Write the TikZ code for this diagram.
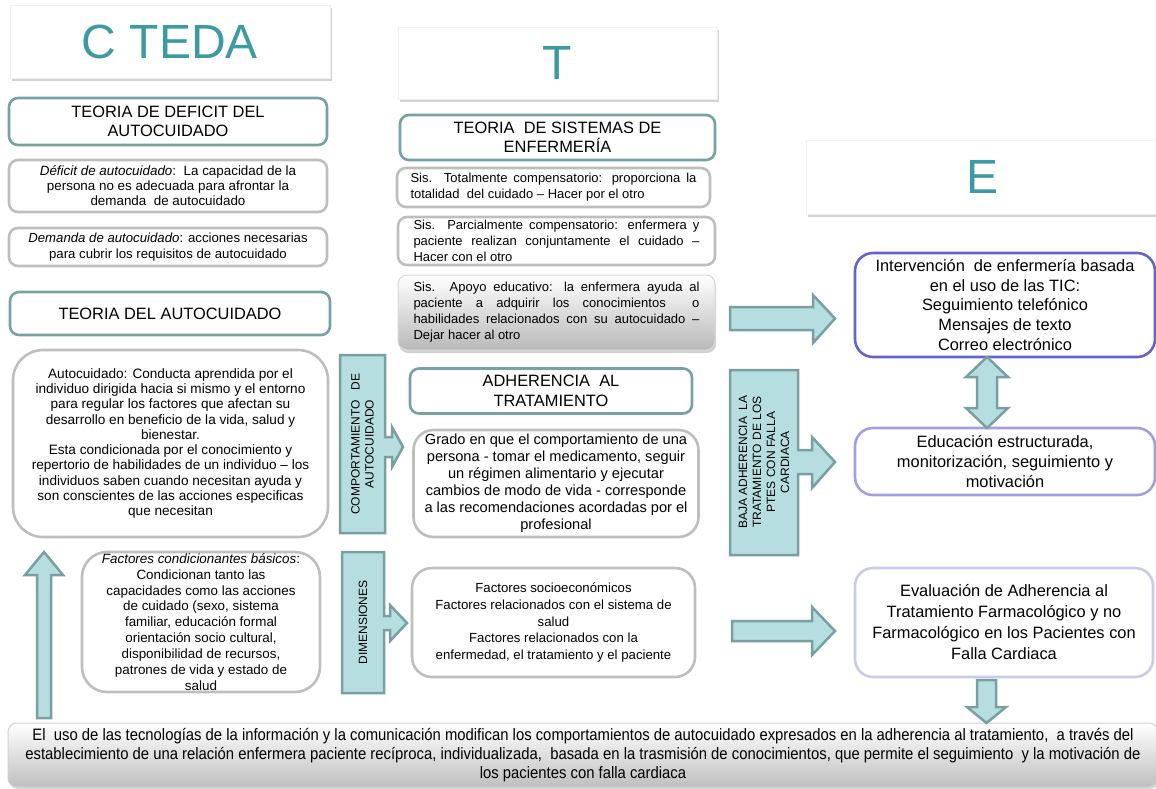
\documentclass[tikz,border=0pt]{standalone}
\usepackage{fontspec}
\setmainfont{Liberation Sans}
\newfontfamily\narrowfont[FakeStretch=0.9]{Liberation Sans}
\usetikzlibrary{shadows}
\definecolor{tealtxt}{HTML}{3C9AA0}
\definecolor{tealbd}{HTML}{76A2A5}
\definecolor{arrfill}{HTML}{B6DEE0}
\definecolor{arrbd}{HTML}{7A9FA1}
\definecolor{graybd}{HTML}{BEBEBE}
\definecolor{vioA}{HTML}{6464CC}
\definecolor{vioB}{HTML}{A0A0E0}
\definecolor{vioC}{HTML}{CACAEE}
\tikzset{
  fs/.style 2 args={font=\fontsize{#1}{#2}\selectfont},
  hdrbox/.style={draw=gray!12, line width=0.4pt, fill=white, inner sep=0,
     drop shadow={opacity=0.35, shadow xshift=1.5pt, shadow yshift=-2.5pt},
     text=tealtxt, fs={48}{50}},
  teorbox/.style={draw=tealbd, line width=2.6pt, fill=white, rounded corners=9,
     inner sep=0, align=center, fs={16.4}{19.5}},
  graybox/.style={draw=graybd, line width=2.6pt, fill=white, rounded corners=9,
     inner sep=0, align=center, fs={13.4}{15.5}},
  jbox/.style={graybox, align=justify, text width=286, fs={13}{16}},
  viobox/.style={line width=2.6pt, fill=white, rounded corners=18, inner sep=0,
     align=center, fs={16.4}{19.8}},
  blockarr/.style={fill=arrfill, draw=arrbd, line width=2.5pt, line join=miter},
  vtext/.style={rotate=90, align=center, fs={12}{14}, inner sep=0},
}
\begin{document}
\begin{tikzpicture}[x=1pt,y=-1pt]
\useasboundingbox (0,0) rectangle (1156,788);
\fill[white] (0,0) rectangle (1156,788);

% headers
\node[hdrbox, minimum width=320, minimum height=73] (hC) at (170,41.5) {\raisebox{-2pt}{C TEDA}};
\node[hdrbox, minimum width=319, minimum height=72] (hT) at (557.5,63) {T};
\node[hdrbox, minimum width=352, minimum height=74] (hE) at (982,177) {\raisebox{-2pt}{E}};

% left column
\node[teorbox, minimum width=318, minimum height=47] (tdef) at (168,121.5)
  {TEORIA DE DEFICIT DEL\\AUTOCUIDADO};
\node[graybox, minimum width=318, minimum height=52, fs={13.4}{15}] (defi) at (168,186)
  {\textit{Déficit de autocuidado}:\ \ La capacidad de la\\persona no es adecuada para afrontar la\\demanda\ \ de autocuidado};
\node[graybox, minimum width=318, minimum height=38, fs={13.2}{16}] (dema) at (168,247)
  {\textit{Demanda de autocuidado}: acciones necesarias\\para cubrir los requisitos de autocuidado};
\node[teorbox, minimum width=320, minimum height=43] (tauto) at (170,313.5)
  {TEORIA DEL AUTOCUIDADO};
\node[graybox, rounded corners=30, minimum width=315, minimum height=187, fs={13.6}{15.3}] (auto) at (170.5,443.5)
  {Autocuidado: Conducta aprendida por el\\
   individuo dirigida hacia si mismo y el entorno\\
   para regular los factores que afectan su\\
   desarrollo en beneficio de la vida, salud y\\
   bienestar.\\
   Esta condicionada por el conocimiento y\\
   repertorio de habilidades de un individuo – los\\
   individuos saben cuando necesitan ayuda y\\
   son conscientes de las acciones especificas\\
   que necesitan};
\node[graybox, rounded corners=25, minimum width=238, minimum height=140, fs={13.4}{15.9}] (fcb) at (201,622)
  {\textit{Factores condicionantes básicos}:\\
   Condicionan tanto las\\
   capacidades como las acciones\\
   de cuidado (sexo, sistema\\
   familiar, educación formal\\
   orientación socio cultural,\\
   disponibilidad de recursos,\\
   patrones de vida\ y estado de\\
   salud};

% middle column
\node[teorbox, minimum width=315, minimum height=45] (tsis) at (557.5,137.5)
  {TEORIA\ \ DE SISTEMAS DE\\ENFERMERÍA};
\node[jbox, minimum width=313, minimum height=39] (sis1) at (553.5,187.5)
  {Sis. Totalmente compensatorio: proporciona la\linebreak totalidad\ \ del cuidado – Hacer por el otro};
\node[jbox, minimum width=317, minimum height=48] (sis2) at (556.5,241)
  {Sis. Parcialmente compensatorio: enfermera y\linebreak paciente realizan conjuntamente el cuidado –\linebreak Hacer con el otro};
\node[jbox, draw=gray!30, line width=1pt, top color=white, bottom color=gray!55,
      drop shadow={opacity=0.35, shadow xshift=1pt, shadow yshift=-3pt},
      minimum width=317, minimum height=75] (sis3) at (556.5,312.5)
  {Sis. Apoyo educativo: la enfermera ayuda al\linebreak paciente a adquirir los conocimientos\ \ o\linebreak habilidades relacionados con su autocuidado –\linebreak Dejar hacer al otro};
\node[teorbox, minimum width=282, minimum height=45] (adh) at (551,391)
  {ADHERENCIA\ \ AL\\TRATAMIENTO};
\node[graybox, rounded corners=20, minimum width=285, minimum height=107, fs={14.6}{17}] (grado) at (556,483.5)
  {Grado en que el comportamiento\ de una\\
   persona - tomar el medicamento,\ seguir\\
   un régimen alimentario y ejecutar\\
   cambios de modo de vida - corresponde\\
   a las recomendaciones acordadas por el\\
   profesional};
\node[graybox, rounded corners=20, minimum width=283, minimum height=109, fs={13.2}{16.8}] (dims) at (553.5,622.5)
  {Factores socioeconómicos\\
   Factores relacionados\ con el sistema de\\
   salud\\
   Factores relacionados\ con la\\
   enfermedad, el tratamiento\ y el paciente};

% right column
\node[viobox, draw=vioA, minimum width=300, minimum height=104] (interv) at (1005,305)
  {Intervención\ \ de enfermería basada\\en el uso de las TIC:\\Seguimiento telefónico\\Mensajes de texto\\Correo electrónico};
\node[viobox, draw=vioB, minimum width=300, minimum height=67] (educ) at (1005,461.5)
  {Educación estructurada,\\monitorización, seguimiento y\\motivación};
\node[viobox, draw=vioC, minimum width=298, minimum height=109, fs={16.4}{21}] (eval) at (1004,622.5)
  {Evaluación de Adherencia al\\Tratamiento Farmacológico y no\\Farmacológico en los Pacientes con\\Falla Cardiaca};

% bottom box
\node[draw=gray!35, line width=1pt, rounded corners=9, top color=white, bottom color=gray!50,
      drop shadow={opacity=0.3, shadow xshift=1pt, shadow yshift=-2pt},
      minimum width=1150, minimum height=64, inner sep=0, align=center,
      font=\narrowfont\fontsize{16.5}{19}\selectfont] (bottom) at (583,755)
  {El\ \ uso de las tecnologías de la información y la comunicación modifican los comportamientos de autocuidado expresados en la adherencia al tratamiento,\ \ a través del\\
   establecimiento de una\ relación enfermera paciente recíproca, individualizada,\ \ basada en la trasmisión de conocimientos, que permite el seguimiento\ \ y la motivación de\\
   los pacientes con falla cardiaca};

% vertical label bars with arrows
\draw[blockarr] (340,355) -- (385,355) -- (385,437) -- (392,437) -- (392,427) -- (403,447)
   -- (392,467) -- (392,457) -- (385,457) -- (385,533) -- (340,533) -- cycle;
\node[vtext] (comp) at (362.5,444) {COMPORTAMIENTO\ \ \ DE\\AUTOCUIDADO};

\draw[blockarr] (342,552) -- (384,552) -- (384,616) -- (390,616) -- (390,605) -- (407,623)
   -- (390,641) -- (390,630) -- (384,630) -- (384,693) -- (342,693) -- cycle;
\node[vtext] (dimn) at (363,622.5) {DIMENSIONES};

\draw[blockarr] (730,370) -- (798,370) -- (798,450) -- (812,450) -- (812,437) -- (835,462)
   -- (812,488) -- (812,474) -- (798,474) -- (798,555) -- (730,555) -- cycle;
\node[vtext] (baja) at (764,462) {BAJA ADHERENCIA\ \ LA\\TRATAMIENTO DE LOS\\PTES CON FALLA\\CARDIACA};

% free block arrows
\draw[blockarr] (730,307) -- (813,307) -- (813,295) -- (835,318.5) -- (813,343) -- (813,330) -- (730,330) -- cycle;
\draw[blockarr] (732,621) -- (812,621) -- (812,607) -- (835,631) -- (812,655) -- (812,641) -- (732,641) -- cycle;
\draw[blockarr] (37,718) -- (37,575) -- (25,575) -- (44,552) -- (63,575) -- (51,575) -- (51,718) -- cycle;
\draw[blockarr] (977,377) -- (966,377) -- (987,357) -- (1008,377) -- (997,377) -- (997,408)
   -- (1008,408) -- (987,428) -- (966,408) -- (977,408) -- cycle;
\draw[blockarr] (977,680) -- (996,680) -- (996,707) -- (1006,707) -- (986.5,723) -- (967,707) -- (977,707) -- cycle;
\end{tikzpicture}
\end{document}
